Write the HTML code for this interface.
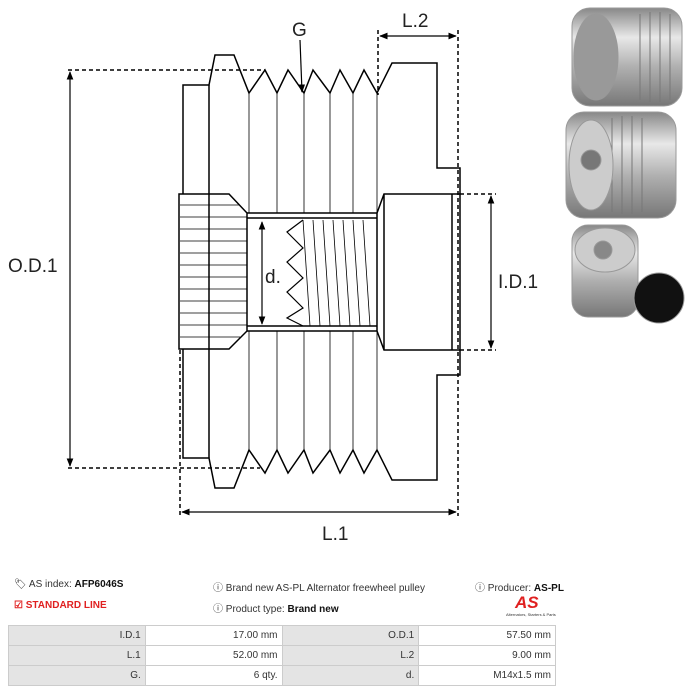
<!DOCTYPE html>
<html><head><meta charset="utf-8"><style>
body{margin:0;width:689px;height:692px;background:#fff;font-family:"Liberation Sans",sans-serif;position:relative;overflow:hidden}
.t{position:absolute;font-size:10px;color:#333;white-space:nowrap}
b{color:#111}
table{position:absolute;left:8px;top:625px;border-collapse:collapse;font-size:10px;color:#333;table-layout:fixed;width:548px}
td{border:1px solid #ccc;height:19px;padding:0 4px;text-align:right}
td.g{background:#e4e4e4}
</style></head><body>
<svg width="689" height="560" style="position:absolute;left:0;top:0" font-family="Liberation Sans, sans-serif">
<defs>
<marker id="a" viewBox="0 0 10 10" refX="9" refY="5" markerWidth="7" markerHeight="7" orient="auto-start-reverse"><path d="M0,1 L10,5 L0,9z" fill="#000"/></marker>
<linearGradient id="m" x1="0" x2="0" y1="0" y2="1"><stop offset="0" stop-color="#888"/><stop offset=".3" stop-color="#e8e8e8"/><stop offset=".6" stop-color="#b0b0b0"/><stop offset="1" stop-color="#777"/></linearGradient>
</defs>
<g fill="none" stroke="#000" stroke-width="1.5">
<path d="M183,194 V85 H209 L215,55 H234 L249,93 L265,70 L277,93 L288,70 L304,93 L313,70 L330,93 L340,70 L353,93 L364,70 L377,93 L392,63 H437 V168 H460 V375 H437 V480 H392 L377,450 L364,473 L353,450 L340,473 L330,450 L313,473 L304,450 L288,473 L277,450 L265,473 L249,450 L234,488 H215 L209,458 H183 V349"/>
<path d="M209,85 V458"/>
<path d="M179,194 H229 L247,213 V331 L229,349 H179 Z"/>
<path d="M247,213 H377 M247,218 H377 M247,326 H377 M247,331 H377"/>
<path d="M377,213 L384,194 H460 M377,331 L384,350 H460 M384,194 V350 M452,194 V350 M377,213 V331"/>
<path d="M303,220 L287,232 L303,248 L287,262 L303,278 L287,292 L303,308 L287,318 L303,326" stroke-width="1.2"/>
</g>
<g stroke="#000" stroke-width="0.8">
<path d="M249,93V213M277,93V213M304,93V213M330,93V213M353,93V213M377,93V213"/>
<path d="M249,331V450M277,331V450M304,331V450M330,331V450M353,331V450M377,331V450"/>
<path d="M180,205H240M180,217H247M180,229H247M180,241H247M180,253H247M180,265H247M180,277H247M180,289H247M180,301H247M180,313H247M180,325H247M180,337H240"/>
<path d="M303,220L310,326M313,220L320,326M323,220L330,326M333,220L340,326M343,220L350,326M353,220L360,326M363,220L370,326"/>
</g>
<g stroke="#000" stroke-width="1.5" stroke-dasharray="4,3" fill="none">
<path d="M68,70H265M68,468H260M180,350V516M458,30V516M378,30V95M460,194H496M460,350H496"/>
</g>
<g stroke="#000" stroke-width="1.2" fill="none">
<path d="M70,72V466" marker-start="url(#a)" marker-end="url(#a)"/>
<path d="M182,512H456" marker-start="url(#a)" marker-end="url(#a)"/>
<path d="M380,36H456" marker-start="url(#a)" marker-end="url(#a)"/>
<path d="M491,196V348" marker-start="url(#a)" marker-end="url(#a)"/>
<path d="M262,222V324" marker-start="url(#a)" marker-end="url(#a)"/>
<path d="M300,40L302,92" marker-end="url(#a)"/>
</g>
<g font-size="19" fill="#222">
<text x="8" y="272">O.D.1</text><text x="322" y="540">L.1</text><text x="402" y="27">L.2</text>
<text x="498" y="288">I.D.1</text><text x="292" y="36">G</text><text x="265" y="283">d.</text>
</g>
<g stroke="#999" stroke-width="1">
<rect x="572" y="8" width="110" height="98" rx="18" fill="url(#m)"/>
<ellipse cx="596" cy="57" rx="22" ry="43" fill="#999"/>
<g stroke="#777"><path d="M640,14V100M650,12V102M660,12V102M670,14V100"/></g>
<rect x="566" y="112" width="110" height="106" rx="18" fill="url(#m)"/>
<g stroke="#777"><path d="M612,118V212M622,116V214M632,116V214M642,118V212"/></g>
<ellipse cx="591" cy="165" rx="22" ry="45" fill="#ccc"/>
<circle cx="591" cy="160" r="10" fill="#777"/>
<rect x="572" y="225" width="66" height="92" rx="16" fill="url(#m)"/>
<ellipse cx="605" cy="250" rx="30" ry="22" fill="#ccc"/>
<circle cx="603" cy="250" r="9" fill="#888"/>
<circle cx="659" cy="298" r="25" fill="#111"/>
</g>
</svg>
<div class="t" style="left:14px;top:579px">&#x1F3F7; AS index: <b>AFP6046S</b></div>
<div class="t" style="left:14px;top:600px;color:#e02020;font-weight:bold">&#9745; STANDARD LINE</div>
<div class="t" style="left:213px;top:579px">&#9432; Brand new AS-PL Alternator freewheel pulley</div>
<div class="t" style="left:213px;top:600px">&#9432; Product type: <b>Brand new</b></div>
<div class="t" style="left:475px;top:579px">&#9432; Producer: <b>AS-PL</b></div>
<div class="t" style="left:515px;top:593px;color:#e02020;font-weight:bold;font-style:italic;font-size:17px">AS</div>
<div class="t" style="left:506px;top:612px;font-size:4px">Alternators, Starters &amp; Parts</div>
<table>
<tr><td class="g">I.D.1</td><td>17.00 mm</td><td class="g">O.D.1</td><td>57.50 mm</td></tr>
<tr><td class="g">L.1</td><td>52.00 mm</td><td class="g">L.2</td><td>9.00 mm</td></tr>
<tr><td class="g">G.</td><td>6 qty.</td><td class="g">d.</td><td>M14x1.5 mm</td></tr>
</table>
</body></html>
